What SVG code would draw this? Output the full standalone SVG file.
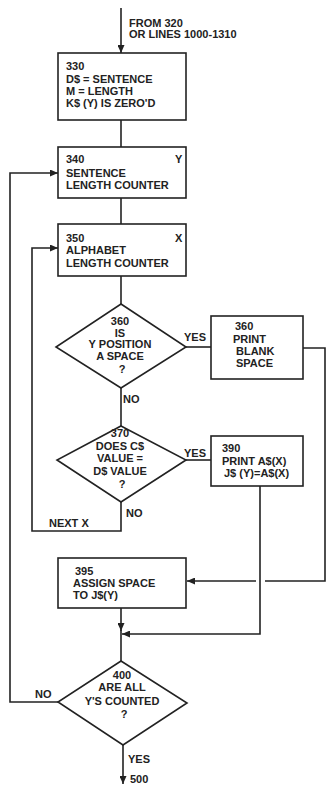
<svg xmlns="http://www.w3.org/2000/svg" width="326" height="785" viewBox="0 0 326 785">
<style>
.n{fill:#fff;stroke:#222;stroke-width:1.6}
.c{fill:none;stroke:#222;stroke-width:1.6}
text{font-family:"Liberation Sans",Arial,sans-serif;font-size:11px;font-weight:bold;fill:#222}
.m{text-anchor:middle}
</style>
<defs>
<marker id="ah" markerUnits="userSpaceOnUse" markerWidth="8" markerHeight="7" refX="8" refY="3.5" orient="auto">
<path d="M0,0 L8,3.5 L0,7 z" fill="#222"/>
</marker>
</defs>
<rect width="326" height="785" fill="#fff"/>
<g id="connectors">
<path class="c" d="M121,8 V53" marker-end="url(#ah)"/>
<path class="c" d="M121,120 V147"/>
<path class="c" d="M121,198 V224"/>
<path class="c" d="M121,276 V304"/>
<path class="c" d="M186,347 H211"/>
<path class="c" d="M121,388 V426"/>
<path class="c" d="M186,460 H211"/>
<path class="c" d="M121,502 V531 H32 V248 H58" marker-end="url(#ah)"/>
<path class="c" d="M303,348 H325 V581 H265"/>
<path class="c" d="M256,581 H187" marker-end="url(#ah)"/>
<path class="c" d="M260,486 V634 H122" marker-end="url(#ah)"/>
<path class="c" d="M121,608 V631" marker-end="url(#ah)"/>
<path class="c" d="M121,630 V661"/>
<path class="c" d="M58,702 H10 V173 H58" marker-end="url(#ah)"/>
<path class="c" d="M123,745 V784" marker-end="url(#ah)"/>
<text x="129" y="27">FROM 320</text>
<text x="129" y="38">OR LINES 1000-1310</text>
<text x="184" y="341">YES</text>
<text x="123" y="403">NO</text>
<text x="184" y="457">YES</text>
<text x="126" y="517">NO</text>
<text x="49" y="527">NEXT X</text>
<text x="35" y="698">NO</text>
<text x="128" y="763">YES</text>
<text x="130" y="783">500</text>
</g>
<g id="n330">
<rect class="n" x="58" y="53" width="128" height="67"/>
<text x="66" y="70">330</text>
<text x="66" y="83">D$ = SENTENCE</text>
<text x="66" y="95">M = LENGTH</text>
<text x="66" y="107">K$ (Y) IS ZERO'D</text>
</g>
<g id="n340">
<rect class="n" x="58" y="147" width="128" height="51"/>
<text x="66" y="163">340</text>
<text x="175" y="163">Y</text>
<text x="66" y="177">SENTENCE</text>
<text x="66" y="189">LENGTH COUNTER</text>
</g>
<g id="n350">
<rect class="n" x="58" y="224" width="128" height="52"/>
<text x="66" y="242">350</text>
<text x="175" y="242">X</text>
<text x="66" y="254">ALPHABET</text>
<text x="66" y="267">LENGTH COUNTER</text>
</g>
<g id="d360">
<polygon class="n" points="121,304 186,347 121,388 56,347"/>
<text class="m" x="120" y="325">360</text>
<text class="m" x="120" y="337">IS</text>
<text class="m" x="120" y="348">Y POSITION</text>
<text class="m" x="120" y="360">A SPACE</text>
<text class="m" x="122" y="373">?</text>
</g>
<g id="b360">
<rect class="n" x="211" y="316" width="92" height="63"/>
<text x="235" y="330">360</text>
<text x="233" y="343">PRINT</text>
<text x="236" y="355">BLANK</text>
<text x="236" y="367">SPACE</text>
</g>
<g id="d370">
<polygon class="n" points="121,426 186,460 121,502 57,460"/>
<text class="m" x="120" y="437">370</text>
<text class="m" x="120" y="450">DOES C$</text>
<text class="m" x="120" y="462">VALUE =</text>
<text class="m" x="120" y="475">D$ VALUE</text>
<text class="m" x="122" y="488">?</text>
</g>
<g id="b390">
<rect class="n" x="211" y="436" width="92" height="50"/>
<text x="222" y="452">390</text>
<text x="222" y="465">PRINT A$(X)</text>
<text x="224" y="477">J$ (Y)=A$(X)</text>
</g>
<g id="n395">
<rect class="n" x="58" y="558" width="128" height="50"/>
<text x="75" y="575">395</text>
<text x="73" y="587">ASSIGN SPACE</text>
<text x="73" y="599">TO J$(Y)</text>
</g>
<g id="d400">
<polygon class="n" points="121,661 187,703 123,745 58,702"/>
<text class="m" x="122" y="679">400</text>
<text class="m" x="122" y="691">ARE ALL</text>
<text class="m" x="122" y="705">Y'S COUNTED</text>
<text class="m" x="124" y="718">?</text>
</g>
</svg>
